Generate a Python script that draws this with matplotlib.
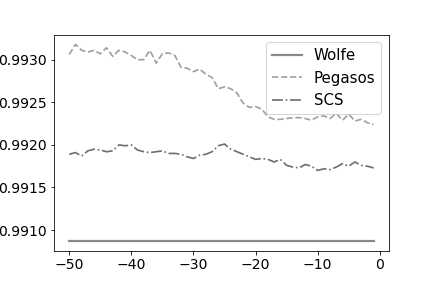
import numpy as np
import matplotlib
matplotlib.use("Agg")
import matplotlib.pyplot as plt

plt.rcParams['font.size'] = 14

x = list(range(-50, 0))

wolfe = [0.990875] * 50

pegasos = [0.99306, 0.99318, 0.99311, 0.99309, 0.99311, 0.99307, 0.99314, 0.99304, 0.99311, 0.99309,
           0.99305, 0.99300, 0.99300, 0.99311, 0.99296, 0.99307, 0.99308, 0.99305, 0.99291, 0.99290,
           0.99286, 0.99289, 0.99283, 0.99279, 0.99266, 0.99268, 0.99266, 0.99261, 0.99249, 0.99244,
           0.99245, 0.99242, 0.99233, 0.99230, 0.99230, 0.99231, 0.99232, 0.99232, 0.99231, 0.99229,
           0.99233, 0.99234, 0.99231, 0.99237, 0.99229, 0.99236, 0.99228, 0.99230, 0.99226, 0.99224]

scs = [0.99189, 0.99191, 0.99187, 0.99193, 0.99195, 0.99194, 0.99192, 0.99193, 0.99200, 0.99199,
       0.99200, 0.99194, 0.99192, 0.99191, 0.99192, 0.99193, 0.99190, 0.99190, 0.99189, 0.99186,
       0.99184, 0.99188, 0.99189, 0.99192, 0.99199, 0.99201, 0.99195, 0.99192, 0.99189, 0.99186,
       0.99183, 0.99184, 0.99183, 0.99180, 0.99183, 0.99176, 0.99174, 0.99173, 0.99177, 0.99175,
       0.99170, 0.99172, 0.99171, 0.99174, 0.99178, 0.99175, 0.99180, 0.99176, 0.99175, 0.99173]

fig = plt.figure(figsize=(6, 4), dpi=72)
fig.subplots_adjust(left=0.125, right=0.9, top=0.88, bottom=0.13)
ax = fig.add_subplot(1, 1, 1)

ax.plot(x, wolfe, color='#888888', linestyle='-', linewidth=2.2, label='Wolfe')
ax.plot(x, pegasos, color='#a0a0a0', linestyle='--', linewidth=1.7, label='Pegasos')
ax.plot(x, scs, color='#707070', linestyle='-.', linewidth=1.7, label='SCS')

ax.set_xticks([-50, -40, -30, -20, -10, 0])
ax.set_yticks([0.9910, 0.9915, 0.9920, 0.9925, 0.9930])
ax.yaxis.set_major_formatter(matplotlib.ticker.FormatStrFormatter('%.4f'))
ax.legend(loc='upper right', fontsize=15)

fig.savefig('out.png', dpi=72)
